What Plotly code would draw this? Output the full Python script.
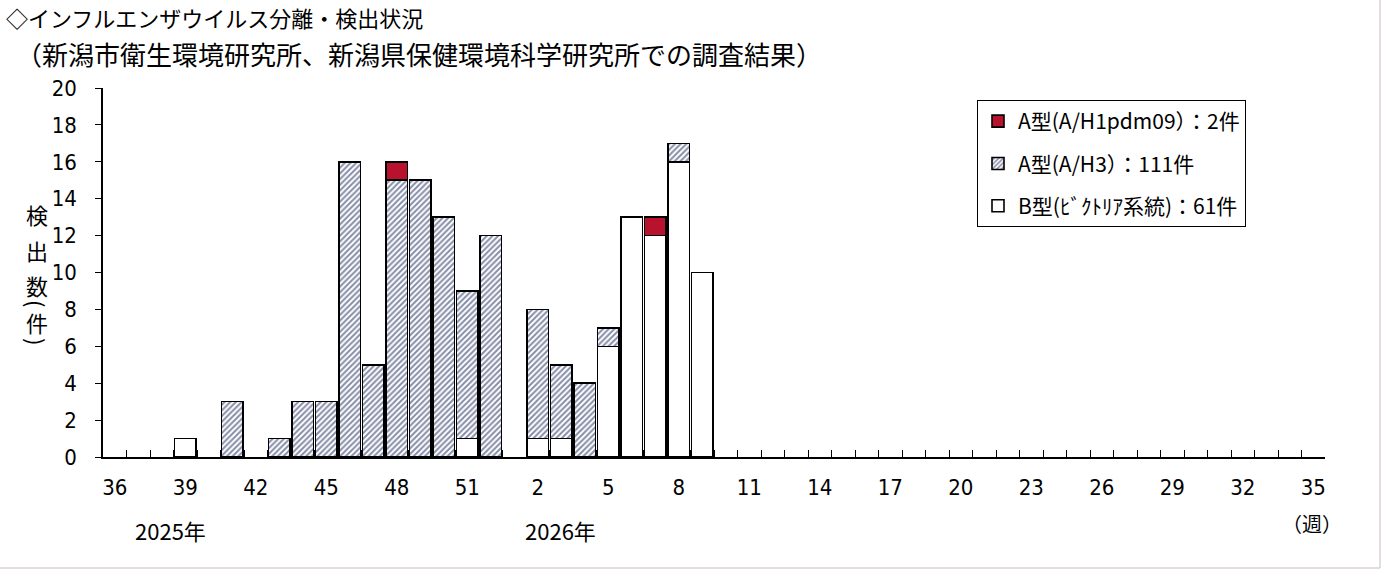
import plotly.graph_objects as go

# ---- data ----
weeks = [36, 37, 38, 39, 40, 41, 42, 43, 44, 45, 46, 47, 48, 49, 50, 51, 52,
         1, 2, 3, 4, 5, 6, 7, 8, 9, 10, 11, 12, 13, 14, 15, 16, 17, 18, 19, 20,
         21, 22, 23, 24, 25, 26, 27, 28, 29, 30, 31, 32, 33, 34, 35]
labeled_weeks = [36, 39, 42, 45, 48, 51, 2, 5, 8, 11, 14, 17, 20, 23, 26, 29, 32, 35]

b_victoria = [0, 0, 0, 1, 0, 0, 0, 0, 0, 0, 0, 0, 0, 0, 0, 1, 0,
              0, 1, 1, 0, 6, 13, 12, 16, 10, 0, 0, 0, 0, 0, 0, 0, 0, 0, 0, 0,
              0, 0, 0, 0, 0, 0, 0, 0, 0, 0, 0, 0, 0, 0, 0]
a_h3 = [0, 0, 0, 0, 0, 3, 0, 1, 3, 3, 16, 5, 15, 15, 13, 8, 12,
        0, 7, 4, 4, 1, 0, 0, 1, 0, 0, 0, 0, 0, 0, 0, 0, 0, 0, 0, 0,
        0, 0, 0, 0, 0, 0, 0, 0, 0, 0, 0, 0, 0, 0, 0]
a_h1pdm09 = [0, 0, 0, 0, 0, 0, 0, 0, 0, 0, 0, 0, 1, 0, 0, 0, 0,
             0, 0, 0, 0, 0, 0, 1, 0, 0, 0, 0, 0, 0, 0, 0, 0, 0, 0, 0, 0,
             0, 0, 0, 0, 0, 0, 0, 0, 0, 0, 0, 0, 0, 0, 0]

names = ["B型(ﾋﾞｸﾄﾘｱ系統)：61件", "A型(A/H3）：111件", "A型(A/H1pdm09）：2件"]

cats = [str(w) for w in weeks]
tick_text = [str(w) if w in labeled_weeks else "" for w in weeks]


def nz(vals):
    # zero counts are not drawn (no empty outlines on the baseline)
    return [v if v else None for v in vals]


# ---- layout geometry helpers ----
W, H = 1381, 569
L, R, T, B = 103, 1325, 88, 457


def px(x):
    return (x - L) / (R - L)


def py(y):
    return (B - y) / (B - T)


JP = "Noto Sans CJK JP"
NUM = "Liberation Sans Narrow, DejaVu Sans Condensed, Arial"
line = dict(color="black", width=1.6)

fig = go.Figure()
fig.add_bar(x=cats, y=nz(b_victoria), name=names[0], legendgroup="b",
            legendrank=3, marker=dict(color="white", line=line))
fig.add_bar(x=cats, y=nz(a_h3), name=names[1], legendgroup="h3",
            legendrank=2,
            marker=dict(color="white", line=line,
                        pattern=dict(shape="/", size=4, solidity=0.5,
                                     fgcolor="#0e1c50", bgcolor="white")))
fig.add_bar(x=cats, y=nz(a_h1pdm09), name=names[2], legendgroup="h1",
            legendrank=1, marker=dict(color="#b8122e", line=line))

fig.update_layout(
    width=W, height=H,
    margin=dict(l=L, r=W - R, t=T, b=H - B, pad=0),
    paper_bgcolor="white", plot_bgcolor="white",
    barmode="stack", bargap=0.1,
    font=dict(family=JP, color="black", size=20),
    showlegend=True,
    legend=dict(x=px(977), y=py(100), xanchor="left", yanchor="top",
                traceorder="grouped", tracegroupgap=12,
                bordercolor="black", borderwidth=1, bgcolor="white",
                font=dict(family=JP, size=21)),
    xaxis=dict(type="category", categoryorder="array", categoryarray=cats,
               tickmode="array", tickvals=cats, ticktext=tick_text,
               tickson="boundaries", ticks="inside", ticklen=7,
               tickcolor="black", tickwidth=1, tickangle=0,
               showline=True, linecolor="black", linewidth=1.5,
               showgrid=False, range=[-0.5, len(cats) - 0.5],
               tickfont=dict(family=NUM, size=22), ticklabelstandoff=10),
    yaxis=dict(range=[0, 20], dtick=2, ticks="outside", ticklen=6,
               tickcolor="black", showline=True, linecolor="black",
               linewidth=1.5, showgrid=False, zeroline=False,
               tickfont=dict(family=NUM, size=22), ticklabelstandoff=14),
)

annotations = [
    dict(text="◇インフルエンザウイルス分離・検出状況", x=px(4), y=py(17),
         xanchor="left", yanchor="middle", font=dict(size=22)),
    dict(text="（新潟市衛生環境研究所、新潟県保健環境科学研究所での調査結果）",
         x=px(14), y=py(53), xanchor="left", yanchor="middle",
         font=dict(size=26)),
    dict(text="2025年", x=px(170), y=py(530), xanchor="center",
         yanchor="middle", font=dict(size=22)),
    dict(text="2026年", x=px(560), y=py(530), xanchor="center",
         yanchor="middle", font=dict(size=22)),
    dict(text="（週）", x=px(1312), y=py(523), xanchor="center",
         yanchor="middle", font=dict(size=20)),
]
# vertical axis title: one character per line, brackets turned sideways
ytitle_chars = ["検", "出", "数", "(", "件", ")"]
ytitle_y = [214, 250, 285, 303, 322, 341]
ytitle_angle = [0, 0, 0, 90, 0, 90]
for ch, yy, ang in zip(ytitle_chars, ytitle_y, ytitle_angle):
    annotations.append(dict(text=ch, x=px(37), y=py(yy), xanchor="center",
                            yanchor="middle", textangle=ang,
                            font=dict(size=22)))
for a in annotations:
    a.update(xref="paper", yref="paper", showarrow=False)
fig.update_layout(annotations=annotations)

# thin frame at the right and bottom edges of the picture
fig.add_shape(type="line", xref="paper", yref="paper",
              x0=px(1380), x1=px(1380), y0=py(0), y1=py(568),
              line=dict(color="#c8bcc8", width=1))
fig.add_shape(type="line", xref="paper", yref="paper",
              x0=px(0), x1=px(1380), y0=py(568), y1=py(568),
              line=dict(color="#c8bcc8", width=1))

fig.write_html("out.html", config={"displayModeBar": False},
               post_script="document.body.style.margin='0';"
                           "document.body.style.overflow='hidden';")
